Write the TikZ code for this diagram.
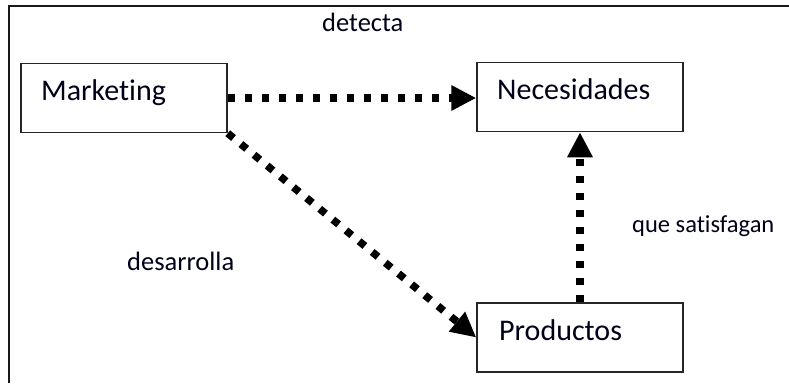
\documentclass[tikz,border=0pt]{standalone}
\usepackage{fontspec}
\setmainfont[Ligatures=NoCommon]{Carlito}
\usetikzlibrary{arrows.meta}
\begin{document}
\begin{tikzpicture}[x=1pt,y=-1pt,
  box/.style={draw=black!85,line width=1.5pt,rectangle,minimum width=206pt,minimum height=69pt,inner sep=0pt},
  boxtext/.style={anchor=base west,inner sep=0pt,font=\fontsize{30}{32}\selectfont,text=black!90!blue},
  lbl/.style={anchor=base west,inner sep=0pt,font=\fontsize{26.5}{28}\selectfont,text=black!90!blue},
  arr/.style={line width=7.5pt,line cap=butt,dash pattern=on 7.5pt off 9.5pt,-{Triangle[length=25pt,width=24pt]}}
]
\useasboundingbox (0,0) rectangle (789,383);
\fill[white] (0,0) rectangle (789,383);
\coordinate (fl) at (9,383);
\coordinate (ftl) at (9,6);
\coordinate (ftr) at (789,6);
\draw[line width=2pt,black!90] (fl) -- (ftl) -- (ftr);
\node[box] (m) at (124,98) {};
\node[box] (n) at (580,97) {};
\node[box] (p) at (580,337.5) {};
\node[boxtext] (mt) at (41,100.7) {Marketing};
\node[boxtext] (nt) at (497,99) {Necesidades};
\node[boxtext] (pt) at (499,340) {Productos};
\node[lbl] (l1) at (322,31) {detecta};
\node[lbl] (l2) at (127,270) {desarrolla};
\node[lbl,font=\fontsize{24.5}{26}\selectfont] (l3) at (632,232) {que satisfagan};
\draw[arr] (m.east) -- (m.east -| n.west);
\draw[arr] (m.south east) -- (p.west);
\draw[arr] (p.north) -- (n.south);
\end{tikzpicture}
\end{document}
